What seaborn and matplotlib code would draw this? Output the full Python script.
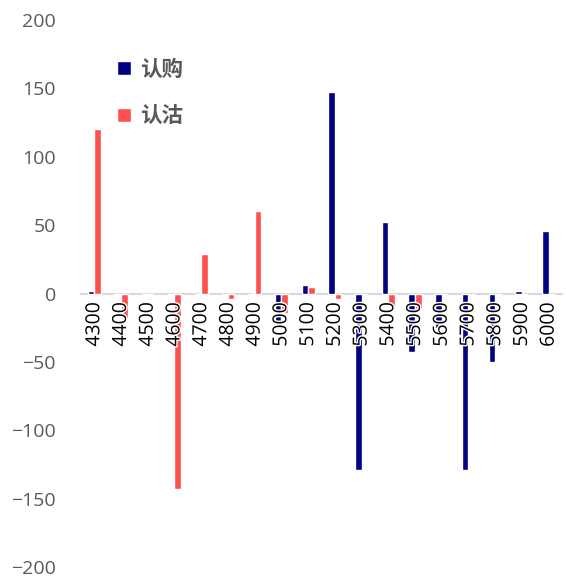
import matplotlib
matplotlib.use("Agg")
import matplotlib.pyplot as plt
import matplotlib.patheffects as pe
import seaborn as sns
import pandas as pd

strikes = ["4300", "4400", "4500", "4600", "4700", "4800", "4900", "5000", "5100",
           "5200", "5300", "5400", "5500", "5600", "5700", "5800", "5900", "6000"]
call_vals = [1.5, 0, 0, 0, 0, 0, 0, -23, 6.5, 147, -129, 52.5, -43, -25, -129, -50, 1.5, 46]
put_vals = [120, -18, 0, -143, 29, -4, 60, -14, 4.5, -4, 0, -9, -11, 0, 0, 0, 0, 0]
series = ["认购", "认沽"]
colors = ["#000080", "#FF5050"]
yticks = [-200, -150, -100, -50, 0, 50, 100, 150, 200]

df = pd.DataFrame({
    "strike": strikes * 2,
    "type": [series[0]] * len(strikes) + [series[1]] * len(strikes),
    "value": call_vals + put_vals,
})

sns.set_style("white")
plt.rcParams["font.family"] = ["Open Sans", "Noto Sans CJK SC", "DejaVu Sans"]

fig = plt.figure(figsize=(5.66, 5.77), dpi=100)
ax = fig.add_axes([0.143, 0.0173, 0.850, 0.948])

sns.barplot(data=df, x="strike", y="value", hue="type", hue_order=series,
            palette=colors, order=strikes, width=0.49, gap=0,
            saturation=1, ax=ax, legend=True)

ax.set_ylim(-200, 200)
ax.set_yticks(yticks)
ax.set_xlim(-0.5, len(strikes) - 0.5)
ax.set_xlabel("")
ax.set_ylabel("")

# axis (zero line and strike labels) drawn over the bars
ax.set_axisbelow(False)
ax.xaxis.set_zorder(3)

for side in ["top", "right", "left"]:
    ax.spines[side].set_visible(False)
ax.spines["bottom"].set_position(("data", 0))
ax.spines["bottom"].set_color("#d9d9d9")
ax.spines["bottom"].set_linewidth(1.5)
ax.spines["bottom"].set_zorder(0.5)

ax.tick_params(axis="y", length=0, pad=18, labelsize=14, labelcolor="#595959")
ax.tick_params(axis="x", length=0, pad=6, labelsize=14, labelcolor="black",
               labelrotation=90)
for lbl in ax.get_xticklabels():
    lbl.set_path_effects([pe.withStroke(linewidth=2, foreground="white")])

leg = ax.legend(loc="upper left", bbox_to_anchor=(0.035, 0.965), frameon=False,
                handlelength=0.65, handleheight=0.65, handletextpad=0.4,
                labelspacing=1.2, fontsize=15.5)
for t in leg.get_texts():
    t.set_color("#595959")
    t.set_fontweight("bold")
    t.set_fontfamily(["Noto Sans CJK SC", "DejaVu Sans"])

fig.savefig("out.png", dpi=100)
